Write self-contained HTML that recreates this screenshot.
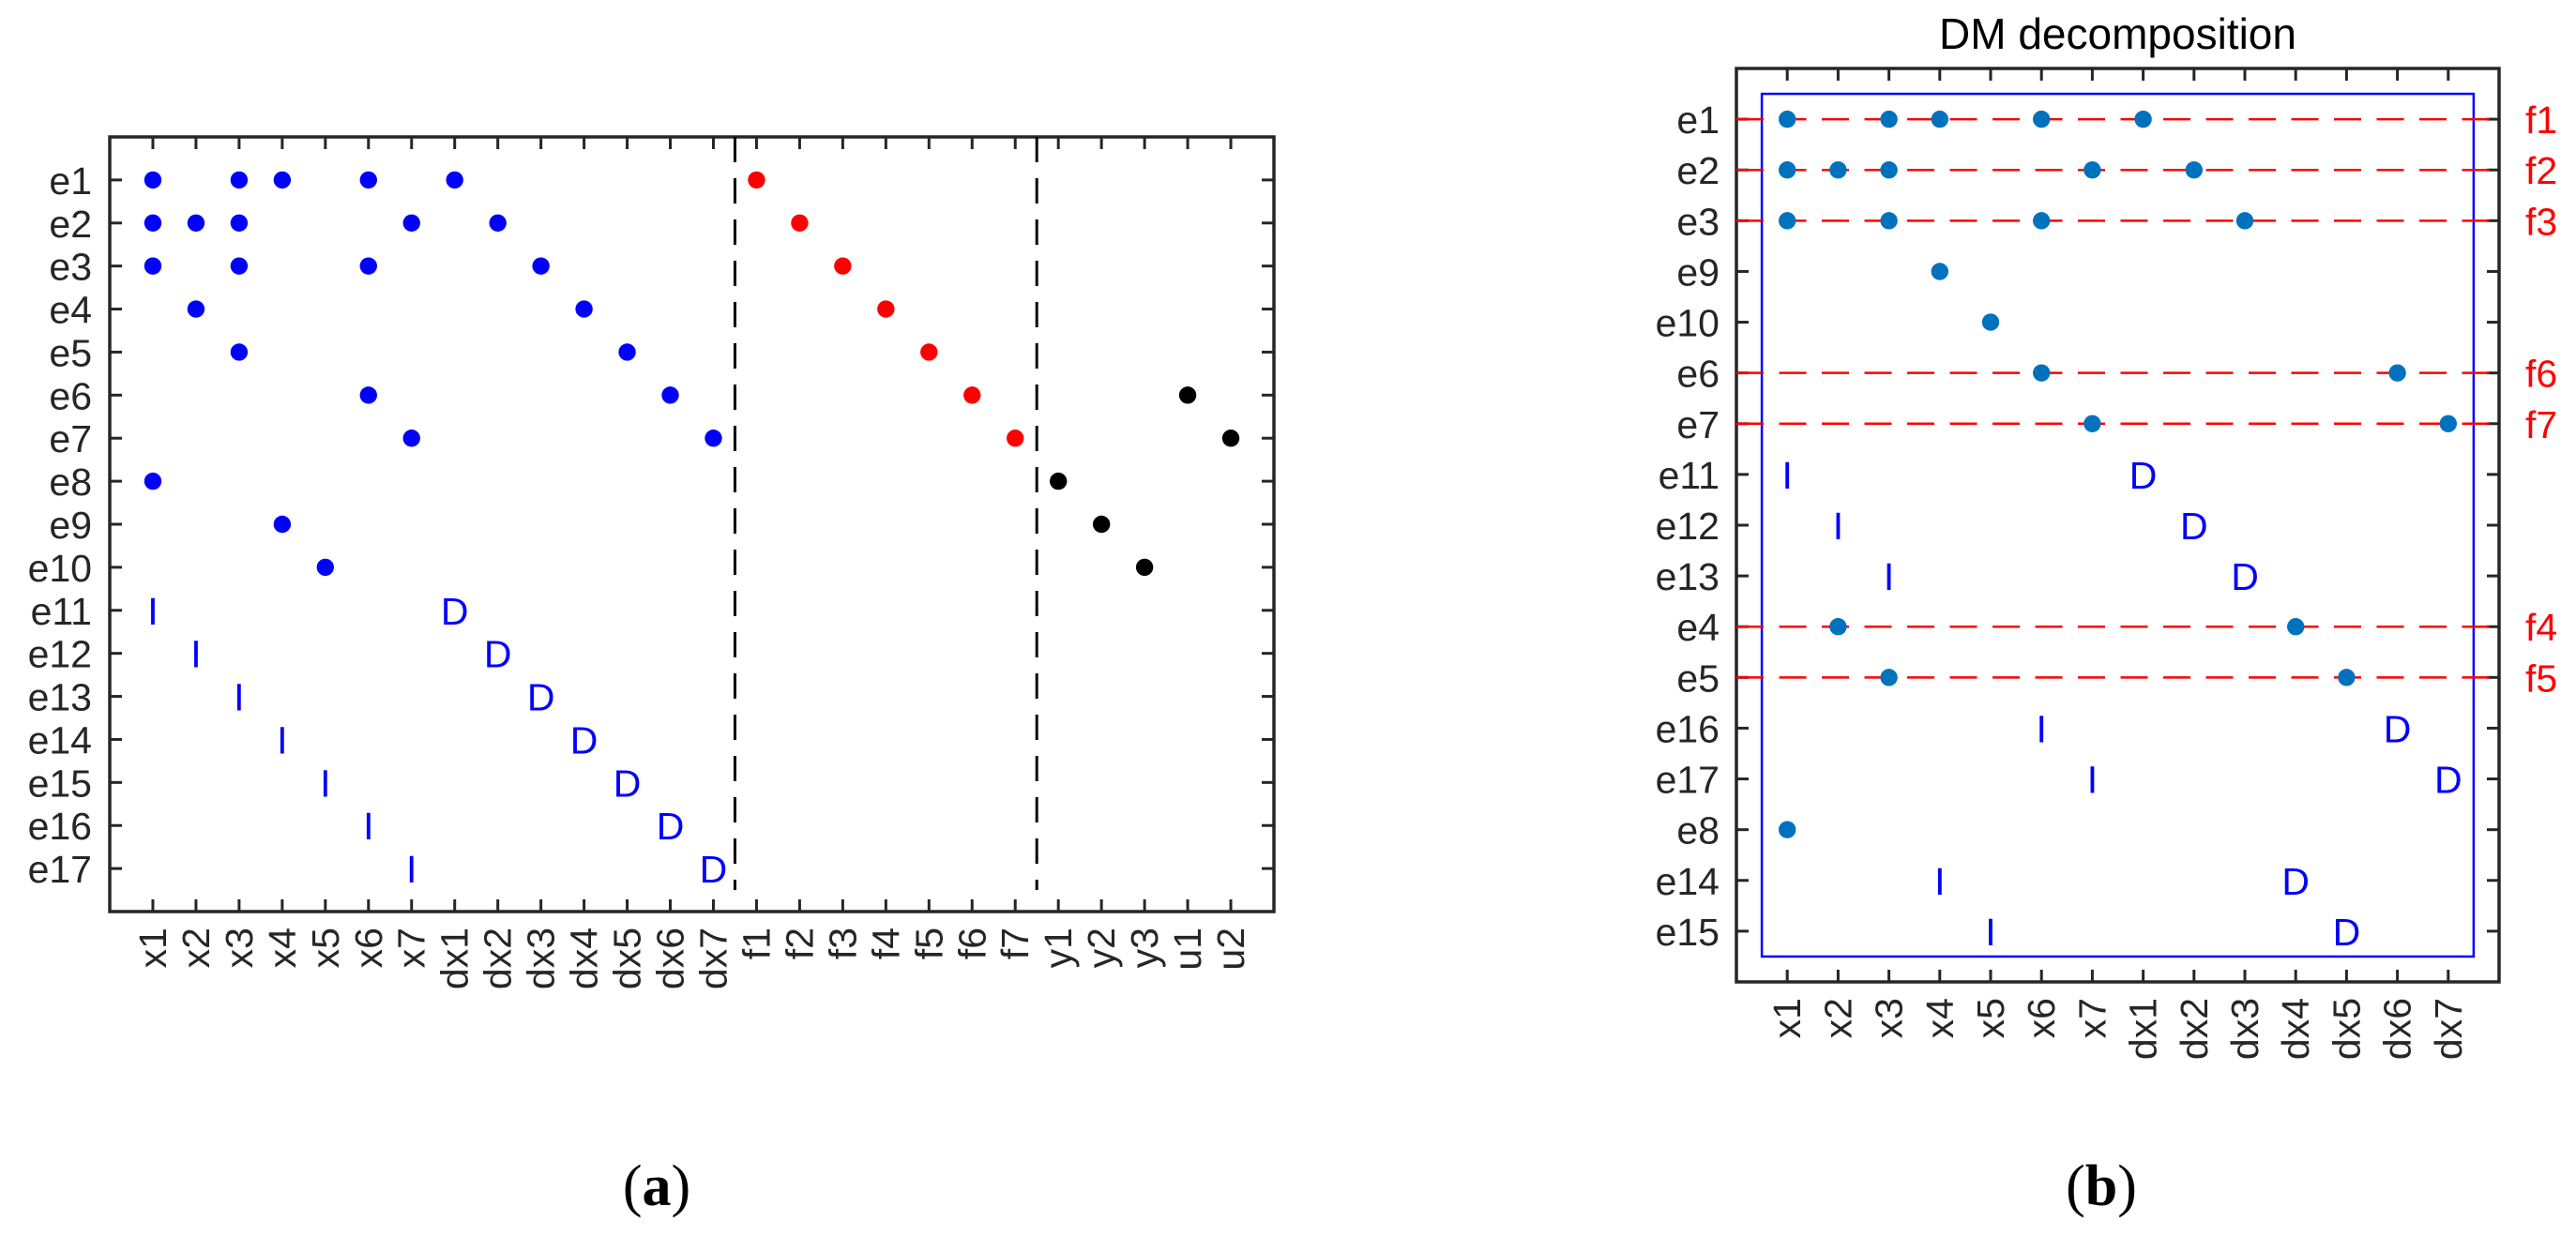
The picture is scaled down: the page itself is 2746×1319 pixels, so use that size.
<!DOCTYPE html>
<html><head><meta charset="utf-8"><style>
html,body{margin:0;padding:0;background:#fff;}
svg{display:block;font-family:"Liberation Sans",sans-serif;}
</style></head><body>
<svg id="fig" width="2746" height="1319" viewBox="0 0 2746 1319" xmlns="http://www.w3.org/2000/svg">
<g id="pa"></g>
<g id="pb"></g>
<text x="700" y="1285" text-anchor="middle" font-family="Liberation Serif, serif" font-size="62">(<tspan font-weight="bold">a</tspan>)</text>
<text x="2240" y="1285" text-anchor="middle" font-family="Liberation Serif, serif" font-size="62">(<tspan font-weight="bold">b</tspan>)</text>
</svg>
<script>
// ---------- Panel A data ----------
const colsA = ["x1","x2","x3","x4","x5","x6","x7","dx1","dx2","dx3","dx4","dx5","dx6","dx7","f1","f2","f3","f4","f5","f6","f7","y1","y2","y3","u1","u2"];
const rowsA = ["e1","e2","e3","e4","e5","e6","e7","e8","e9","e10","e11","e12","e13","e14","e15","e16","e17"];
const blueA = [["e1","x1"],["e1","x3"],["e1","x4"],["e1","x6"],["e1","dx1"],
 ["e2","x1"],["e2","x2"],["e2","x3"],["e2","x7"],["e2","dx2"],
 ["e3","x1"],["e3","x3"],["e3","x6"],["e3","dx3"],
 ["e4","x2"],["e4","dx4"],["e5","x3"],["e5","dx5"],["e6","x6"],["e6","dx6"],
 ["e7","x7"],["e7","dx7"],["e8","x1"],["e9","x4"],["e10","x5"]];
const redA = [["e1","f1"],["e2","f2"],["e3","f3"],["e4","f4"],["e5","f5"],["e6","f6"],["e7","f7"]];
const blackA = [["e8","y1"],["e9","y2"],["e10","y3"],["e6","u1"],["e7","u2"]];
const letterA = [["e11","x1","I"],["e11","dx1","D"],["e12","x2","I"],["e12","dx2","D"],["e13","x3","I"],["e13","dx3","D"],
 ["e14","x4","I"],["e14","dx4","D"],["e15","x5","I"],["e15","dx5","D"],["e16","x6","I"],["e16","dx6","D"],["e17","x7","I"],["e17","dx7","D"]];
const dividersA = [14.5, 21.5];

// ---------- Panel B data ----------
const colsB = ["x1","x2","x3","x4","x5","x6","x7","dx1","dx2","dx3","dx4","dx5","dx6","dx7"];
const rowsB = ["e1","e2","e3","e9","e10","e6","e7","e11","e12","e13","e4","e5","e16","e17","e8","e14","e15"];
const dotsB = [["e1","x1"],["e1","x3"],["e1","x4"],["e1","x6"],["e1","dx1"],
 ["e2","x1"],["e2","x2"],["e2","x3"],["e2","x7"],["e2","dx2"],
 ["e3","x1"],["e3","x3"],["e3","x6"],["e3","dx3"],["e9","x4"],["e10","x5"],
 ["e6","x6"],["e6","dx6"],["e7","x7"],["e7","dx7"],["e4","x2"],["e4","dx4"],["e5","x3"],["e5","dx5"],["e8","x1"]];
const letterB = [["e11","x1","I"],["e11","dx1","D"],["e12","x2","I"],["e12","dx2","D"],["e13","x3","I"],["e13","dx3","D"],
 ["e16","x6","I"],["e16","dx6","D"],["e17","x7","I"],["e17","dx7","D"],["e14","x4","I"],["e14","dx4","D"],["e15","x5","I"],["e15","dx5","D"]];
const fLinesB = [["e1","f1"],["e2","f2"],["e3","f3"],["e6","f6"],["e7","f7"],["e4","f4"],["e5","f5"]];

const NS="http://www.w3.org/2000/svg";
function mk(parent,tag,attrs,txt){const e=document.createElementNS(NS,tag);for(const k in attrs)e.setAttribute(k,attrs[k]);if(txt!==undefined)e.textContent=txt;parent.appendChild(e);return e;}

function axes(g,L,T,R,B,cols,rows,ylx,tickLen,opts){
  const sx=v=>L+(R-L)*v/(cols.length+1);
  const sy=v=>T+(B-T)*v/(rows.length+1);
  const fr=mk(g,"rect",{x:L,y:T,width:R-L,height:B-T,fill:"none",stroke:"#262626","stroke-width":3.5});
  
  
  cols.forEach((c,i)=>{
    const x=sx(i+1);
    mk(g,"line",{x1:x,y1:B,x2:x,y2:B-tickLen,stroke:"#262626","stroke-width":3});
    mk(g,"line",{x1:x,y1:T,x2:x,y2:T+tickLen,stroke:"#262626","stroke-width":3});
    const t=mk(g,"text",{x:0,y:0,"font-size":41,fill:"#262626","text-anchor":"end",transform:`translate(${x+14},${B+17}) rotate(-90)`},c);
    
    
  });
  rows.forEach((r,i)=>{
    const y=sy(i+1);
    mk(g,"line",{x1:L,y1:y,x2:L+tickLen,y2:y,stroke:"#262626","stroke-width":3});
    mk(g,"line",{x1:R,y1:y,x2:R-tickLen,y2:y,stroke:"#262626","stroke-width":3});
    const t=mk(g,"text",{x:ylx,y:y+15,"font-size":41,fill:"#262626","text-anchor":"end"},r);
    
    
  });
  return {sx,sy};
}

// Panel A
(function(){
  const g=document.getElementById('pa');
  const L=117,T=146,R=1358,B=972;
  const {sx,sy}=axes(g,L,T,R,B,colsA,rowsA,98,13);
  const cx=c=>sx(colsA.indexOf(c)+1), cy=r=>sy(rowsA.indexOf(r)+1);
  dividersA.forEach(d=>{
    const l=mk(g,"line",{x1:sx(d),y1:sy(0),x2:sx(d),y2:sy(17.5),stroke:"#000","stroke-width":3,"stroke-dasharray":"27 17"});
    
    
  });
  const dot=(arr,col,name)=>arr.forEach(([r,c])=>{
    const e=mk(g,"circle",{cx:cx(c),cy:cy(r),r:9.2,fill:col});
    
    
  });
  dot(blueA,"#0000ff","variable-dot");
  dot(redA,"#ff0000","residual-dot");
  dot(blackA,"#000000","io-dot");
  letterA.forEach(([r,c,s])=>{
    const e=mk(g,"text",{x:cx(c),y:cy(r)+15,"font-size":41,fill:"#0000ff","text-anchor":"middle"},s);
    
    
  });
})();

// Panel B
(function(){
  const g=document.getElementById('pb');
  const L=1851,T=73,R=2664,B=1047;
  const {sx,sy}=axes(g,L,T,R,B,colsB,rowsB,1833,13);
  const cx=c=>sx(colsB.indexOf(c)+1), cy=r=>sy(rowsB.indexOf(r)+1);
  const t=mk(g,"text",{x:(L+R)/2,y:52,"font-size":46,fill:"#000","text-anchor":"middle"},"DM decomposition");
  
  
  const br=mk(g,"rect",{x:sx(0.5),y:sy(0.5),width:sx(14.5)-sx(0.5),height:sy(17.5)-sy(0.5),fill:"none",stroke:"#0000ff","stroke-width":2.5});
  
  
  fLinesB.forEach(([r,f])=>{
    const y=cy(r);
    const l=mk(g,"line",{x1:L,y1:y,x2:R,y2:y,stroke:"#ff0000","stroke-width":2.5,"stroke-dasharray":"29 16.5"});
    
    
    const lb=mk(g,"text",{x:2692,y:y+15,"font-size":41,fill:"#ff0000"},f);
    
    
  });
  dotsB.forEach(([r,c])=>{
    const e=mk(g,"circle",{cx:cx(c),cy:cy(r),r:9.2,fill:"#0072bd"});
    
    
  });
  letterB.forEach(([r,c,s])=>{
    const e=mk(g,"text",{x:cx(c),y:cy(r)+15,"font-size":41,fill:"#0000ff","text-anchor":"middle"},s);
    
    
  });
})();
</script>
</body></html>
